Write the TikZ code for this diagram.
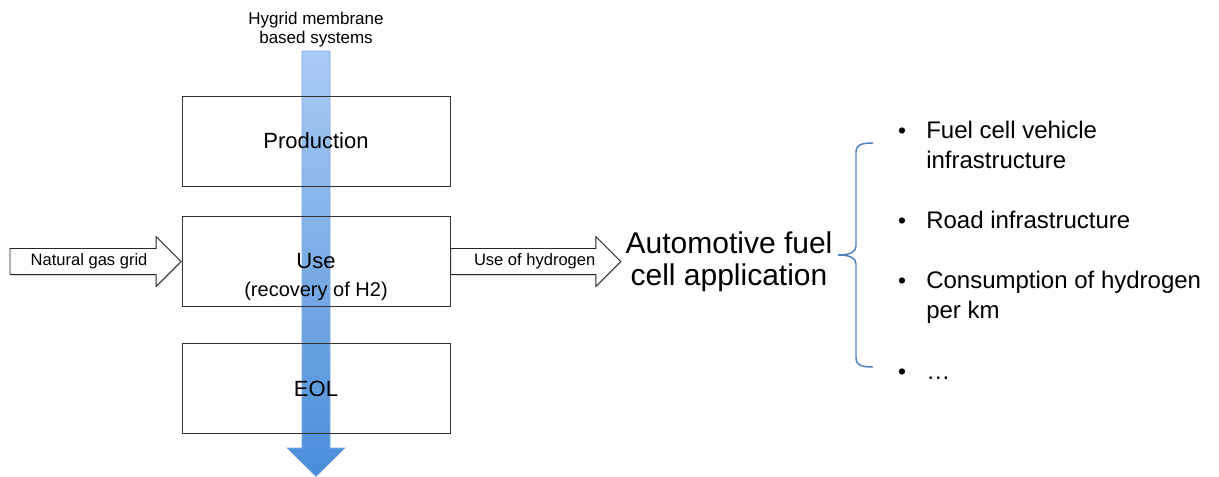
\documentclass[tikz,border=0pt]{standalone}
\usepackage{fontspec}
\setmainfont{Liberation Sans}
\usetikzlibrary{shapes.arrows,shadows}

\definecolor{flowtop}{HTML}{AACBF5}
\definecolor{flowbot}{HTML}{4A8ED8}
\definecolor{flowedge}{HTML}{7FA8E0}
\definecolor{bracecol}{HTML}{4F81BD}

\begin{document}
\begin{tikzpicture}[x=0.75pt, y=-0.75pt,
stage/.style = {rectangle, draw=black!80, line width=0.6pt, minimum width=201pt,
  minimum height=67.5pt, font=\fontsize{16.5}{19}\selectfont},
flowarrow/.style = {single arrow, draw=black!85, fill=white, line width=0.6pt,
  text height=8pt, text depth=2pt, inner ysep=4.4pt, single arrow head extend=9pt,
  font=\fontsize{12.4}{15}\selectfont,
  drop shadow={shadow xshift=1pt, shadow yshift=-1pt, fill=black!30}},
item/.style = {anchor=base west, align=left, inner sep=0pt, font=\fontsize{18}{22.5}\selectfont},
dot/.style = {anchor=base, inner sep=0pt, font=\fontsize{17}{18}\selectfont}]

\useasboundingbox (0,0) rectangle (1219,477);

% membrane systems flow
\shade[top color=flowtop, bottom color=flowbot, draw=flowedge, line width=0.4pt]
  (302,51) -- (330,51) -- (330,448) -- (345,448) -- (316,476.5) -- (287,448) -- (302,448) -- cycle;
\node[align=center, anchor=base, inner sep=0pt, font=\fontsize{12.75}{14.6}\selectfont]
  (title) at (316,44) {Hygrid membrane\\based systems};

\node[stage] at (316,141) (prod) {Production};
\node[stage] at (316,261.5) (use) {Use};
\node[anchor=base, inner sep=0pt, font=\fontsize{15}{18}\selectfont] at (316,296.5) (rec) {(recovery of H2)};
\node[stage] at (316,388.5) (eol) {EOL};

\node[flowarrow, minimum height=128.25pt, anchor=tip] at (use.west) (gas) {Natural gas grid};
\node[flowarrow, minimum height=127.5pt, anchor=tail] at (use.east) (hyd) {\hspace{8pt}Use of hydrogen};

\node[anchor=west, align=center, inner sep=0pt, font=\fontsize{22.5}{24}\selectfont]
  at ([xshift=3]hyd.tip) (app) {Automotive fuel\\cell application};

% brace
\draw[bracecol, line width=1.1pt] (873,143) .. controls (861,143) and (856,145) .. (856,152)
  -- (856,246) .. controls (856,252) and (850,255) .. (838,255)
  .. controls (850,255) and (856,258) .. (856,264)
  -- (856,358) .. controls (856,365) and (861,367) .. (873,367);

\node[item] at (926,168.5) (i1) {Fuel cell vehicle\\infrastructure};
\node[item] at (926,228.5) (i2) {Road infrastructure};
\node[item] at (926,318.5) (i3) {Consumption of hydrogen\\per km};
\node[item] at (926,379) (i4) {…};
\foreach \y [count=\i] in {138.5,228.5,288.5,379}
  \node[dot] at (902,\y) (b\i) {•};
\end{tikzpicture}
\end{document}
